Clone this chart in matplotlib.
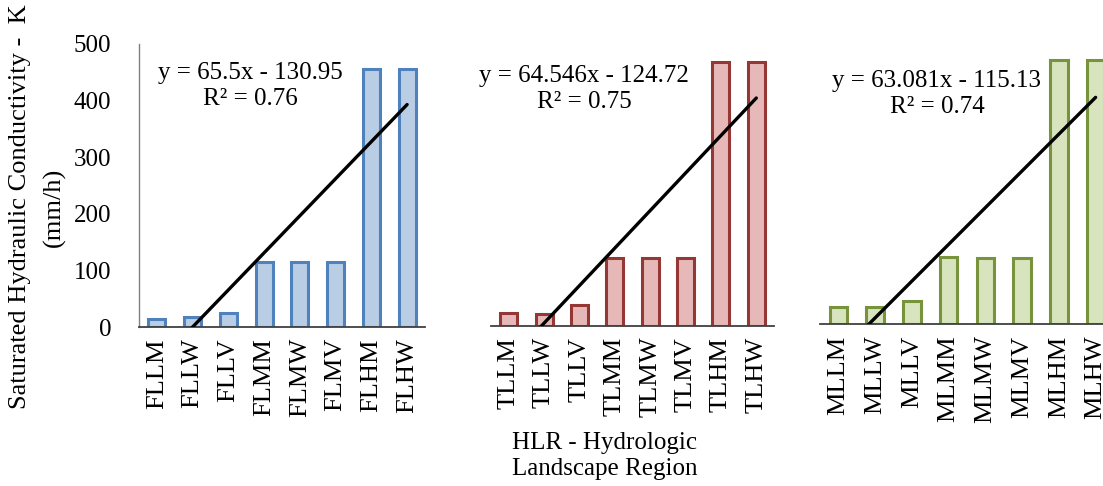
import matplotlib
matplotlib.use("Agg")
import matplotlib.pyplot as plt
import numpy as np

plt.rcParams['font.family'] = ['Liberation Serif', 'DejaVu Serif']

fl_labels = ["FLLM", "FLLW", "FLLV", "FLMM", "FLMW", "FLMV", "FLHM", "FLHW"]
fl_values = [15, 18, 25, 115, 115, 115, 455, 455]
tl_labels = ["TLLM", "TLLW", "TLLV", "TLMM", "TLMW", "TLMV", "TLHM", "TLHW"]
tl_values = [22, 20, 36, 117, 117, 117, 454, 454]
ml_labels = ["MLLM", "MLLW", "MLLV", "MLMM", "MLMW", "MLMV", "MLHM", "MLHW"]
ml_values = [30, 30, 40, 116, 113, 113, 454, 454]

slopes = [65.5, 64.546, 63.081]
intercepts = [-130.95, -124.72, -115.13]
eq_texts = ["y = 65.5x - 130.95\nR² = 0.76",
            "y = 64.546x - 124.72\nR² = 0.75",
            "y = 63.081x - 115.13\nR² = 0.74"]

edge_colors = ["#4F81BD", "#953735", "#77933C"]
fill_colors = ["#B9CDE5", "#E6B9B8", "#D7E4BD"]

W, H = 1103, 486
fig = plt.figure(figsize=(W / 100, H / 100), dpi=100)

# axes boxes in pixels: (left, right, top(500), bottom(0))
boxes = [(139, 425, 44, 327), (491, 774, 35, 325.7), (820, 1114, 33, 324.3)]
eq_pos = [(250, 86), (584, 89), (937, 94)]
labels_all = [fl_labels, tl_labels, ml_labels]
values_all = [fl_values, tl_values, ml_values]

fs = 18
for i, (l, r, t, b) in enumerate(boxes):
    ax = fig.add_axes([l / W, 1 - b / H, (r - l) / W, (b - t) / H])
    x = np.arange(1, 9)
    ax.bar(x, values_all[i], width=0.48, color=fill_colors[i],
           edgecolor=edge_colors[i], linewidth=2.2, zorder=2)
    xt = np.linspace(1, 8, 50)
    ax.plot(xt, slopes[i] * xt + intercepts[i], color='black', lw=2.4, zorder=3,
            solid_capstyle='round')
    ax.set_xlim(0.5, 8.5)
    ax.set_ylim(0, 500)
    ax.set_xticks(x)
    ax.set_xticklabels(labels_all[i], rotation=90, fontsize=19)
    ax.tick_params(axis='x', length=0, pad=8)
    for s in ['top', 'right']:
        ax.spines[s].set_visible(False)
    ax.spines['bottom'].set_color('#404040')
    ax.spines['bottom'].set_linewidth(1.3)
    if i == 0:
        ax.set_yticks([0, 100, 200, 300, 400, 500])
        ax.tick_params(axis='y', length=0, labelsize=fs, pad=20)
        ax.spines['left'].set_color('#808080')
        ax.spines['left'].set_linewidth(1.0)
    else:
        ax.spines['left'].set_visible(False)
        ax.set_yticks([])
    ax.patch.set_alpha(0)
    ex, ey = eq_pos[i]
    fig.text(ex / W, 1 - ey / H, eq_texts[i], ha='center', va='center',
             fontsize=fs, linespacing=1.25, zorder=5)

fig.text(20 / W, 1 - 207 / H, "Saturated Hydraulic Conductivity -  K",
         rotation=90, ha='center', va='center', fontsize=19)
fig.text(54 / W, 1 - 207 / H, "(mm/h)", rotation=90, ha='center', va='center', fontsize=19)
fig.text(605 / W, 1 - 456 / H, "HLR - Hydrologic\nLandscape Region", ha='center',
         va='center', fontsize=fs, linespacing=1.25)

fig.savefig("out.png", dpi=100, facecolor='white')
